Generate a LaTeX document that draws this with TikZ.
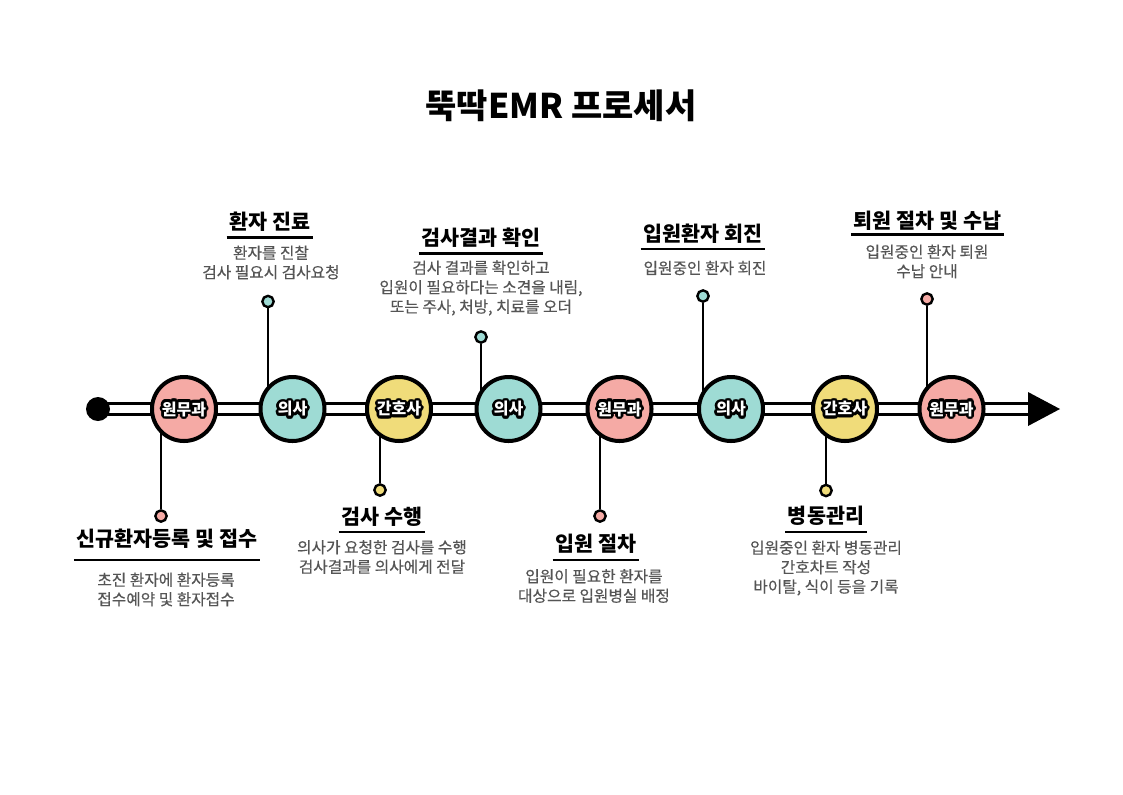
\documentclass[tikz,border=0pt]{standalone}
\usepackage{fontspec}
\newfontfamily\kr{Noto Sans CJK KR}
\newfontfamily\krm{Noto Sans CJK KR}[FakeBold=0.4]
\definecolor{cpink}{RGB}{245,170,165}
\definecolor{cteal}{RGB}{158,219,212}
\definecolor{cyel}{RGB}{240,220,122}
\definecolor{descgray}{RGB}{85,85,85}
\tikzset{
 station/.style={circle,draw=black,line width=3pt,minimum size=48pt,inner sep=0pt},
 pindot/.style={circle,draw=black,line width=1.8pt,minimum size=8.5pt,inner sep=0pt},
 pinline/.style={line width=1.5pt},
 badgetxt/.style={font=\kr\bfseries\fontsize{12}{14}\selectfont,inner sep=0pt},
 stitle/.style={font=\kr\bfseries\fontsize{15.5}{18}\selectfont,inner xsep=2pt,inner ysep=0pt},
 sdesc/.style={font=\krm\fontsize{11.8}{14.6}\selectfont,text=descgray,align=center,inner sep=0pt},
 uline/.style={line width=1.6pt},
}
\newcommand\badge[3]{%
 \foreach \a in {0,20,...,340}{\node[badgetxt,text=black] at ([shift={(\a:2pt)}]#2) {#3};}
 \node[badgetxt,text=white] (#1) at (#2) {#3};}
\begin{document}
\begin{tikzpicture}[x=0.75pt,y=-0.75pt]
\useasboundingbox (0,0) rectangle (1123,794);
\fill[white] (0,0) rectangle (1123,794);

\node[font=\kr\bfseries\fontsize{25.5}{30}\selectfont,inner sep=0pt] (title) at (561,106) {뚝딱EMR 프로세서};

% station centres
\coordinate (p1) at (184,409);
\coordinate (p2) at (292.5,409);
\coordinate (p3) at (399,409);
\coordinate (p4) at (508.5,409);
\coordinate (p5) at (619.5,409);
\coordinate (p6) at (731,409);
\coordinate (p7) at (845,409);
\coordinate (p8) at (951.5,409);

% main line
\coordinate (start) at (98,409);
\coordinate (abase) at (1028,409);
\coordinate (tip) at (1060,409);
\draw[line width=10pt] (start) -- (abase);
\draw[white,line width=5.3pt] (start) -- (abase);
\node[circle,fill=black,minimum size=18pt,inner sep=0pt] (s) at (start) {};
\fill[black] (1028,392) -- (tip) -- (1028,426) -- cycle;

% pin dots
\node[pindot,fill=cpink] (d1) at (161,516) {};
\node[pindot,fill=cteal] (d2) at (268,301.5) {};
\node[pindot,fill=cyel]  (d3) at (380,490) {};
\node[pindot,fill=cteal] (d4) at (481,337) {};
\node[pindot,fill=cpink] (d5) at (600,516) {};
\node[pindot,fill=cteal] (d6) at (703,296) {};
\node[pindot,fill=cyel]  (d7) at (826,490.5) {};
\node[pindot,fill=cpink] (d8) at (927,299) {};
\foreach \i in {1,...,8}{\draw[pinline] (d\i) -- (d\i |- p\i);}

% stations
\node[station,fill=cpink] (c1) at (p1) {};
\node[station,fill=cteal] (c2) at (p2) {};
\node[station,fill=cyel]  (c3) at (p3) {};
\node[station,fill=cteal] (c4) at (p4) {};
\node[station,fill=cpink] (c5) at (p5) {};
\node[station,fill=cteal] (c6) at (p6) {};
\node[station,fill=cyel]  (c7) at (p7) {};
\node[station,fill=cpink] (c8) at (p8) {};
\badge{b1}{p1}{원무과}
\badge{b2}{p2}{의사}
\badge{b3}{p3}{간호사}
\badge{b4}{p4}{의사}
\badge{b5}{p5}{원무과}
\badge{b6}{p6}{의사}
\badge{b7}{p7}{간호사}
\badge{b8}{p8}{원무과}

% labels
\node[stitle] (t1) at (167,539) {신규환자등록 및 접수};
\draw[uline] (t1.west |- 0,560) -- (t1.east |- 0,560);
\node[sdesc] (e1) at (166,589.5) {초진 환자에 환자등록\\접수예약 및 환자접수};

\node[stitle] (t2) at (270,222) {환자 진료};
\draw[uline] (t2.west |- 0,237.5) -- (t2.east |- 0,237.5);
\node[sdesc] (e2) at (271,262.5) {환자를 진찰\\검사 필요시 검사요청};

\node[stitle] (t3) at (382,517) {검사 수행};
\draw[uline] (t3.west |- 0,532.3) -- (t3.east |- 0,532.3);
\node[sdesc] (e3) at (382,557) {의사가 요청한 검사를 수행\\검사결과를 의사에게 전달};

\node[stitle] (t4) at (481,238) {검사결과 확인};
\draw[uline] (t4.west |- 0,253.5) -- (t4.east |- 0,253.5);
\node[sdesc] (e4) at (481,288) {검사 결과를 확인하고\\입원이 필요하다는 소견을 내림,\\또는 주사, 처방, 치료를 오더};

\node[stitle] (t5) at (596,544) {입원 절차};
\draw[uline] (t5.west |- 0,560) -- (t5.east |- 0,560);
\node[sdesc] (e5) at (594,586) {입원이 필요한 환자를\\대상으로 입원병실 배정};

\node[stitle] (t6) at (703,234) {입원환자 회진};
\draw[uline] (t6.west |- 0,249) -- (t6.east |- 0,249);
\node[sdesc] (e6) at (705,268) {입원중인 환자 회진};

\node[stitle] (t7) at (826,516) {병동관리};
\draw[uline] (t7.west |- 0,532) -- (t7.east |- 0,532);
\node[sdesc] (e7) at (826,568) {입원중인 환자 병동관리\\간호차트 작성\\바이탈, 식이 등을 기록};

\node[stitle] (t8) at (927.5,221) {퇴원 절차 및 수납};
\draw[uline] (t8.west |- 0,234.5) -- (t8.east |- 0,234.5);
\node[sdesc] (e8) at (927,261.5) {입원중인 환자 퇴원\\수납 안내};
\end{tikzpicture}
\end{document}
